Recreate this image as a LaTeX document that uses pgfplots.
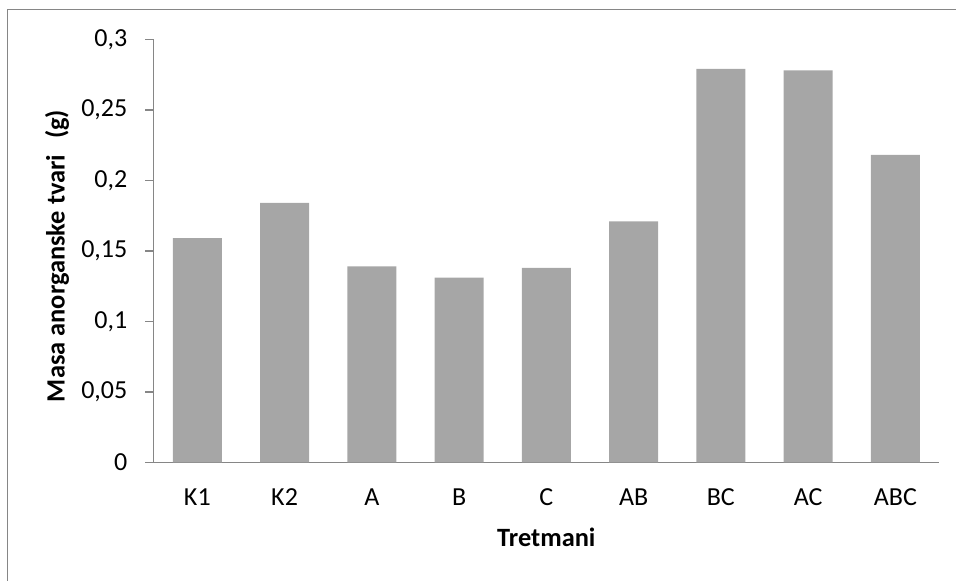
\documentclass[border=0pt]{standalone}
\usepackage{fontspec}
\setmainfont{Carlito}
\usepackage{pgfplots}
\pgfplotsset{compat=1.18}
\definecolor{axgray}{HTML}{868686}
\definecolor{barfill}{HTML}{A6A6A6}
\begin{document}
\begin{tikzpicture}
\useasboundingbox (0,0) rectangle (478pt,290.5pt);
\draw[axgray, line width=0.8pt] (3.65pt,-5pt) -- (3.65pt,285.65pt) -- (485pt,285.65pt);
\begin{axis}[
  at={(76.85pt,59.25pt)}, anchor=south west,
  scale only axis, width=392.65pt, height=211.6pt,
  xmin=-0.5, xmax=8.5, ymin=0, ymax=0.3,
  axis x line*=bottom, axis y line*=left,
  axis line style={axgray, line width=0.7pt},
  tick align=outside,
  xtick={0,...,8},
  xticklabels={K1,K2,A,B,C,AB,BC,AC,ABC},
  x tick style={draw=none},
  extra x ticks={-0.5,0.5,1.5,2.5,3.5,4.5,5.5,6.5,7.5,8.5},
  extra x tick labels={},
  extra x tick style={tick style={axgray, line width=0.7pt}, major tick length=4pt},
  ytick={0,0.05,0.1,0.15,0.2,0.25,0.3},
  yticklabels={0,{0,05},{0,1},{0,15},{0,2},{0,25},{0,3}},
  y tick style={axgray, line width=0.7pt},
  major tick length=4.3pt,
  tick label style={font=\fontsize{13}{15}\selectfont, text=black},
  yticklabel style={anchor=east, inner sep=0pt, xshift=-8.7pt},
  xticklabel style={anchor=center, inner sep=0pt, yshift=-12.95pt},
  xlabel={\textbf{Tretmani}},
  ylabel={\textbf{Masa anorganske tvari\hspace{0.6em}(g)}},
  label style={font=\fontsize{13.2}{15}\selectfont},
  xlabel style={at={(axis description cs:0.5,-0.177)}, anchor=center, inner sep=0pt},
  ylabel style={at={(axis description cs:-0.1231,0.488)}, anchor=center, rotate=0, inner sep=0pt},
  ybar, bar width=24.5pt,
  clip=false,
]
\addplot[fill=barfill, draw=none] coordinates {
  (0,0.159) (1,0.184) (2,0.139) (3,0.131) (4,0.138) (5,0.171) (6,0.279) (7,0.278) (8,0.218)
};
\end{axis}
\end{tikzpicture}
\end{document}
